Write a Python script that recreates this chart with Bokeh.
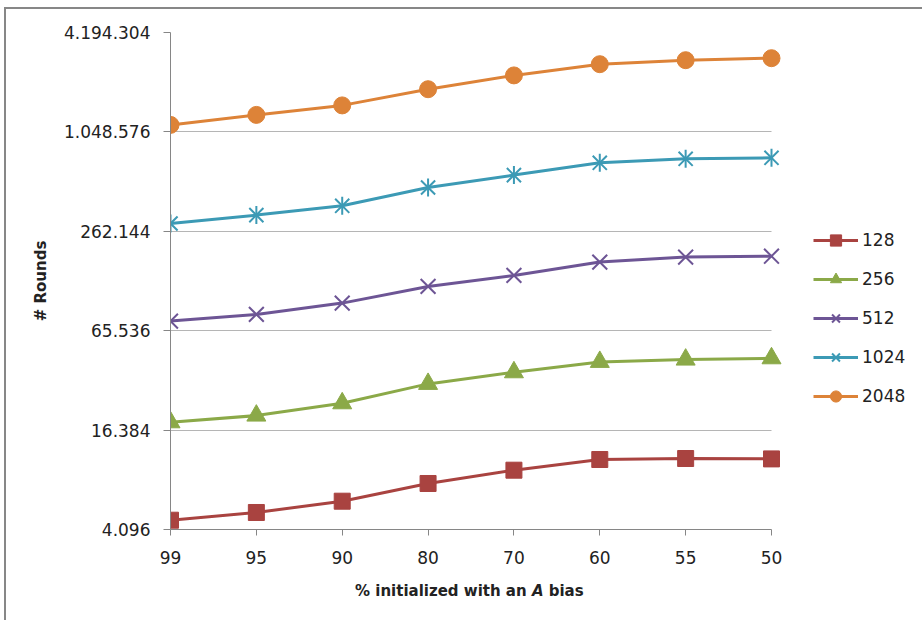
from bokeh.plotting import figure
from bokeh.models import (Range1d, FixedTicker, Legend, LegendItem, Div)
from bokeh.layouts import column
from bokeh.embed import file_html
from bokeh.resources import INLINE
import math

# ---- data ----
categories = ["99", "95", "90", "80", "70", "60", "55", "50"]
series_names = ["128", "256", "512", "1024", "2048"]
s128 = [4663, 5192, 6078, 7780, 9366, 10873, 11025, 10965]
s256 = [18266, 20056, 23809, 31208, 36689, 42416, 43799, 44599]
s512 = [74927, 82268, 96306, 121556, 141728, 170610, 182930, 185250]
s1024 = [292260, 328600, 374110, 482870, 574050, 681460, 720590, 730700]
s2048 = [1156100, 1329200, 1517500, 1902000, 2305800, 2695700, 2850300, 2930900]
y_ticks = [4096, 16384, 65536, 262144, 1048576, 4194304]
y_tick_labels = ["4.096", "16.384", "65.536", "262.144", "1.048.576", "4.194.304"]
x_title_html = "<b>% initialized with an <i>A</i> bias</b>"

colors = ["#A94340", "#8BA948", "#6D5595", "#3C9AB5", "#DD8338"]
TXT = "#222222"
AXC = "#868686"
GRID = "#b5b5b5"
FONT = "DejaVu Sans"

xs = list(range(len(categories)))
x_last = len(categories) - 1

# frame: left edge at category 0, 601 px for the categories,
# extra room on the right (inside the frame) for the legend
FIG_W, LEFT, RIGHT = 916, 164, 2
frame_w = FIG_W - LEFT - RIGHT
x_end = x_last * frame_w / 601.0

p = figure(width=FIG_W, height=573,
           x_range=Range1d(0, x_end),
           y_range=Range1d(y_ticks[0], y_ticks[-1]),
           y_axis_type="log",
           output_backend="svg", toolbar_location=None,
           min_border_left=LEFT, min_border_right=RIGHT,
           min_border_top=23, min_border_bottom=53)
p.outline_line_color = None
p.background_fill_color = "white"
p.border_fill_color = "white"

# grids
p.xgrid.grid_line_color = None
yg = p.ygrid[0]
if "cross_bounds" in yg.properties():
    yg.grid_line_color = GRID
    yg.grid_line_width = 1
    yg.cross_bounds = (0, x_last)
else:
    yg.grid_line_color = None
    p.segment(x0=[0] * len(y_ticks), y0=y_ticks,
              x1=[x_last] * len(y_ticks), y1=y_ticks,
              line_color=GRID, line_width=1, level="underlay")

# x axis
xa = p.xaxis[0]
xa.bounds = (0, x_last)
xa.ticker = FixedTicker(ticks=xs)
xa.major_label_overrides = {i: c for i, c in enumerate(categories)}
xa.axis_line_color = AXC
xa.major_tick_line_color = AXC
xa.minor_tick_line_color = None
xa.major_tick_in = 0
xa.major_tick_out = 6
xa.major_label_standoff = 15
xa.major_label_text_font = FONT
xa.major_label_text_font_size = "17px"
xa.major_label_text_color = TXT

# y axis
ya = p.yaxis[0]
ya.ticker = FixedTicker(ticks=y_ticks)
ya.major_label_overrides = {t: s for t, s in zip(y_ticks, y_tick_labels)}
ya.axis_line_color = AXC
ya.major_tick_line_color = AXC
ya.minor_tick_line_color = None
ya.major_tick_in = 0
ya.major_tick_out = 7
ya.major_label_standoff = 13
ya.major_label_text_font = FONT
ya.major_label_text_font_size = "17px"
ya.major_label_text_color = TXT
ya.axis_label = "# Rounds"
ya.axis_label_text_font = FONT
ya.axis_label_text_font_size = "15px"
ya.axis_label_text_font_style = "bold"
ya.axis_label_text_color = TXT
ya.axis_label_standoff = 11

items = []
all_series = [s128, s256, s512, s1024, s2048]
for name, ys, col in zip(series_names, all_series, colors):
    ln = p.line(xs, ys, line_color=col, line_width=3)
    rs = [ln]
    if name == "128":
        rs.append(p.scatter(xs, ys, marker="square", size=16, fill_color=col, line_color=col))
    elif name == "256":
        rs.append(p.scatter(xs, ys, marker="triangle", size=19, fill_color=col, line_color=col))
    elif name == "512":
        rs.append(p.scatter(xs, ys, marker="x", size=21, line_color=col, line_width=2))
    elif name == "1024":
        rs.append(p.scatter(xs, ys, marker="x", size=20, line_color=col, line_width=2))
        rs.append(p.scatter(xs, ys, marker="dash", size=18, angle=math.pi / 2,
                            line_color=col, line_width=2))
    else:
        rs.append(p.scatter(xs, ys, marker="circle", size=17, fill_color=col, line_color=col))
    items.append(LegendItem(label=name, renderers=rs))

legend = Legend(items=items, location=(643, 119),
                glyph_width=45, glyph_height=28, label_height=28,
                spacing=11, label_standoff=4, padding=0, margin=0,
                border_line_color=None, background_fill_alpha=0,
                label_text_font=FONT, label_text_font_size="17px",
                label_text_color=TXT)
p.add_layout(legend)

title_div = Div(text=x_title_html, width=567, height=38, margin=(0, 0, 0, 349),
                styles={"font-family": FONT, "font-size": "15px",
                        "color": TXT, "line-height": "normal"})

page = column(p, title_div, spacing=0,
              styles={"border-top": "2px solid #878787",
                      "border-left": "2px solid #878787",
                      "margin-left": "4px", "margin-top": "7px"})

open("out.html", "w").write(file_html(page, INLINE))
